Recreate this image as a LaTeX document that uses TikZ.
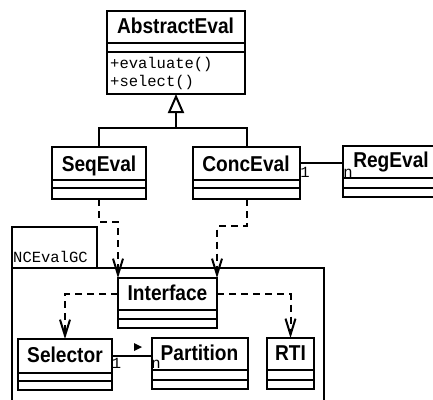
\documentclass[tikz,border=0pt]{standalone}
\usepackage{fontspec}
\newfontfamily\clsfont{Liberation Sans}[FakeStretch=0.89]
\newfontfamily\umlmono{Liberation Mono}
\usetikzlibrary{arrows.meta}
\begin{document}
\begin{tikzpicture}[x=1pt,y=-1pt,
  ln/.style={line width=2pt},
  box/.style 2 args={draw,line width=2pt,inner sep=0pt,outer sep=0pt,minimum width=#1pt,minimum height=#2pt},
  cname/.style={anchor=base,inner sep=0pt,font=\clsfont\bfseries\fontsize{21.5}{24}\selectfont},
  mono/.style={inner sep=0pt,font=\umlmono\fontsize{15.5}{18}\selectfont},
  dep/.style={line width=2pt,dash pattern=on 7pt off 5pt,-{Straight Barb[length=16pt,width=10pt,line width=2pt]}},
]
\useasboundingbox (0,0) rectangle (433,399);
\clip (0,0) rectangle (433,399);
% package
\node[box={85}{41}] (tab) at (54.5,247.5) {};
\node[box={312}{162}] (pkg) at (168,349) {};
\node[mono,anchor=base west] (pkgname) at (13,262) {NCEvalGC};
% AbstractEval
\node[box={138}{83.3}] (abs) at (176,52.35) {};
\draw[ln] (abs.west |- 0,43) -- (abs.east |- 0,43);
\draw[ln] (abs.west |- 0,52) -- (abs.east |- 0,52);
\node[cname] (absname) at (175.5,33.3) {AbstractEval};
\node[mono,anchor=base west] (m1) at (110,68) {+evaluate()};
\node[mono,anchor=base west] (m2) at (110,86) {+select()};
% SeqEval
\node[box={94}{52}] (seq) at (99,173) {};
\draw[ln] (seq.west |- 0,180) -- (seq.east |- 0,180);
\draw[ln] (seq.west |- 0,188) -- (seq.east |- 0,188);
\node[cname] (seqname) at (99,171) {SeqEval};
% ConcEval
\node[box={107}{52}] (conc) at (246.5,173) {};
\draw[ln] (conc.west |- 0,180) -- (conc.east |- 0,180);
\draw[ln] (conc.west |- 0,188) -- (conc.east |- 0,188);
\node[cname] (concname) at (246,171) {ConcEval};
% RegEval
\node[box={97}{51}] (reg) at (391.5,171.5) {};
\draw[ln] (reg.west |- 0,178) -- (reg.east |- 0,178);
\draw[ln] (reg.west |- 0,188) -- (reg.east |- 0,188);
\node[cname] (regname) at (391,167.7) {RegEval};
% Interface
\node[box={99}{50}] (intf) at (167.5,303) {};
\draw[ln] (intf.west |- 0,310) -- (intf.east |- 0,310);
\draw[ln] (intf.west |- 0,319) -- (intf.east |- 0,319);
\node[cname] (intfname) at (167.5,300) {Interface};
% Selector
\node[box={94}{51}] (sel) at (65,364.5) {};
\draw[ln] (sel.west |- 0,373) -- (sel.east |- 0,373);
\draw[ln] (sel.west |- 0,381) -- (sel.east |- 0,381);
\node[cname] (selname) at (65,362) {Selector};
% Partition
\node[box={96}{51}] (part) at (200,363.5) {};
\draw[ln] (part.west |- 0,370) -- (part.east |- 0,370);
\draw[ln] (part.west |- 0,380) -- (part.east |- 0,380);
\node[cname] (partname) at (199.5,360) {Partition};
% RTI
\node[box={47}{51}] (rti) at (290.5,363.5) {};
\draw[ln] (rti.west |- 0,370) -- (rti.east |- 0,370);
\draw[ln] (rti.west |- 0,380) -- (rti.east |- 0,380);
\node[cname] (rtiname) at (290.5,360) {RTI};
% generalization
\coordinate (j) at (176,128);
\draw[ln] (seq.north) |- (j) -| (conc.north);
\draw[ln,-{Triangle[open,length=19pt,width=16pt,line width=2pt]}] (j) -- (abs.south);
% association ConcEval - RegEval
\draw[ln] (conc.east |- 0,163) -- (reg.west |- 0,163);
\node[mono,anchor=base] (c1) at (305,177) {1};
\node[mono,anchor=base] (cn) at (348,177) {n};
% association Selector - Partition
\draw[ln] (sel.east |- 0,356) -- (part.west |- 0,356);
\node[mono,anchor=base] (s1) at (116.5,368) {1};
\node[mono,anchor=base] (sn) at (156,368) {n};
\fill (134,343) -- (142,347) -- (134,351) -- cycle;
% dependencies
\draw[dep] (seq.south) |- (118,222) -- (intf.north west);
\draw[dep] (conc.south |- 0,199) |- (217,226) -- (intf.north east);
\draw[dep] (intf.west |- 0,294) -| (sel.north);
\draw[dep] (intf.east |- 0,294) -| (rti.north);
\end{tikzpicture}
\end{document}
